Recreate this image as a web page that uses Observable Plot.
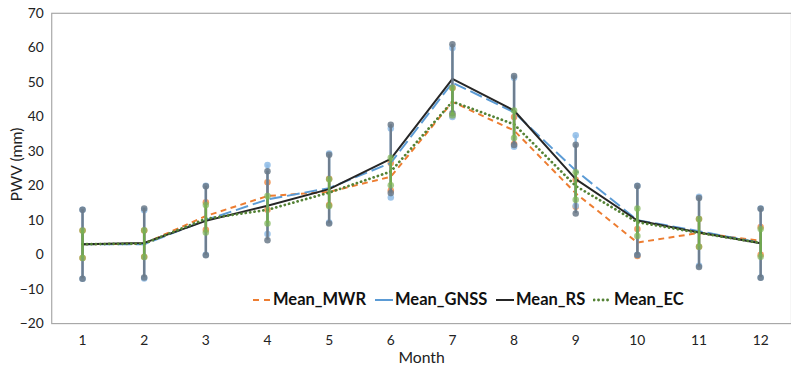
<!DOCTYPE html>
<html>
<head>
<meta charset="utf-8">
<script src="https://cdn.jsdelivr.net/npm/d3@7"></script>
<script src="https://cdn.jsdelivr.net/npm/@observablehq/plot@0.6"></script>
<style>
  html, body { margin: 0; padding: 0; background: #fff; overflow: hidden; }
  #wrap { position: relative; width: 791px; height: 372px; overflow: hidden; font-family: Lato, "Open Sans", sans-serif; }
  .leg { position: absolute; top: 289px; display: flex; align-items: center; font-weight: bold; font-size: 16.5px; color: #111; white-space: nowrap; }
  .leg svg { margin-right: 1px; }
</style>
</head>
<body>
<div id="wrap"></div>
<script>
const months = [1, 2, 3, 4, 5, 6, 7, 8, 9, 10, 11, 12];
const seriesNames = ["Mean_MWR", "Mean_GNSS", "Mean_RS", "Mean_EC"];
const mwrMean  = [3.0, 3.2, 11.2, 17.0, 18.2, 22.6, 44.3, 36.0, 17.8, 3.5, 6.3, 4.0];
const gnssMean = [3.0, 3.0, 10.0, 16.0, 19.3, 26.6, 49.9, 41.3, 24.4, 10.0, 6.8, 3.4];
const rsMean   = [3.0, 3.4, 9.8, 14.2, 19.0, 27.8, 51.0, 41.8, 21.9, 9.9, 6.4, 3.3];
const ecMean   = [3.0, 3.2, 10.4, 13.0, 18.0, 24.1, 44.4, 37.8, 19.9, 9.4, 6.3, 3.4];
const mwrErr   = [4.0, 3.8, 4.0, 4.0, 3.8, 4.0, 4.0, 3.9, 3.9, 3.9, 4.0, 4.0];
const gnssErr  = [10.0, 9.9, 10.0, 10.0, 10.0, 10.0, 10.0, 10.0, 10.2, 10.0, 10.0, 10.0];
const rsErr    = [10.0, 10.0, 10.0, 10.0, 10.0, 9.9, 10.0, 10.0, 10.0, 10.0, 10.0, 10.0];
const ecErr    = [4.0, 3.9, 4.0, 4.0, 3.9, 4.0, 4.0, 4.0, 4.0, 4.0, 4.0, 4.0];
const yTicks = [-20, -10, 0, 10, 20, 30, 40, 50, 60, 70];

const styles = {
  Mean_MWR:  {line: "#ED7D31", dash: "6,4.5", width: 2, bar: "#ED7D31", barOp: 0.85, dot: "#ED7D31", dotOp: 0.75, cap: "butt"},
  Mean_GNSS: {line: "#5B9BD5", dash: "13,5", width: 2, bar: "#7FB1E0", barOp: 0.8, dot: "#8DBBE6", dotOp: 0.85, cap: "butt"},
  Mean_RS:   {line: "#262626", dash: null, width: 2, bar: "#6B7A8A", barOp: 0.95, dot: "#6B7A8A", dotOp: 0.85, cap: "butt"},
  Mean_EC:   {line: "#548235", dash: "0.1,4.4", width: 2.8, bar: "#70AD47", barOp: 0.9, dot: "#7DB556", dotOp: 0.7, cap: "round"}
};

const means = [mwrMean, gnssMean, rsMean, ecMean];
const errs = [mwrErr, gnssErr, rsErr, ecErr];
const tables = seriesNames.map((s, i) => months.map((m, j) => ({
  series: s, month: m, value: means[i][j], lo: means[i][j] - errs[i][j], hi: means[i][j] + errs[i][j]
})));

const marks = [Plot.frame({stroke: "#A8A8A8", strokeWidth: 1.2})];
seriesNames.forEach((s, i) => {
  const st = styles[s];
  const t = tables[i];
  marks.push(Plot.line(t, {x: "month", y: "value", stroke: st.line, strokeWidth: st.width,
    strokeDasharray: st.dash || undefined, strokeLinecap: st.cap, strokeLinejoin: "round"}));
  marks.push(Plot.ruleX(t, {x: "month", y1: "lo", y2: "hi", stroke: st.bar, strokeOpacity: st.barOp, strokeWidth: 2.5}));
  marks.push(Plot.dot(t, {x: "month", y: "lo", r: 3.3, fill: st.dot, fillOpacity: st.dotOp, stroke: "none"}));
  marks.push(Plot.dot(t, {x: "month", y: "hi", r: 3.3, fill: st.dot, fillOpacity: st.dotOp, stroke: "none"}));
});
marks.push(Plot.axisY({ticks: yTicks, tickSize: 0, tickPadding: 8, label: null, fontSize: 14}));
marks.push(Plot.axisX({ticks: months, tickSize: 0, tickPadding: 12, label: null, fontSize: 14}));
marks.push(Plot.text(["Month"], {frameAnchor: "bottom", dy: 40, fontSize: 16, fill: "#222"}));
marks.push(Plot.text(["PWV (mm)"], {frameAnchor: "left", dx: -35, dy: -4, rotate: -90, textAnchor: "middle", fontSize: 16, fill: "#222"}));

const chart = Plot.plot({
  width: 803,
  height: 372,
  marginLeft: 52,
  marginRight: 0,
  marginTop: 13,
  marginBottom: 44,
  style: {fontFamily: "Lato, 'Open Sans', sans-serif", fontSize: "14px", color: "#222", background: "#fff"},
  x: {type: "linear", domain: [0.5, 12.5]},
  y: {domain: [-20, 70]},
  marks
});
const wrap = document.getElementById("wrap");
wrap.appendChild(chart);

// legend
const legPos = [252, 374, 495, 593];
seriesNames.forEach((s, i) => {
  const st = styles[s];
  const div = document.createElement("div");
  div.className = "leg";
  div.style.left = legPos[i] + "px";
  const ns = "http://www.w3.org/2000/svg";
  const svg = document.createElementNS(ns, "svg");
  svg.setAttribute("width", 20); svg.setAttribute("height", 16);
  const ln = document.createElementNS(ns, "line");
  ln.setAttribute("x1", 1); ln.setAttribute("x2", 19); ln.setAttribute("y1", 9); ln.setAttribute("y2", 9);
  ln.setAttribute("stroke", st.line); ln.setAttribute("stroke-width", st.width);
  if (s === "Mean_MWR") ln.setAttribute("stroke-dasharray", "6,5");
  if (s === "Mean_EC") ln.setAttribute("stroke-dasharray", st.dash);
  ln.setAttribute("stroke-linecap", st.cap);
  svg.appendChild(ln);
  div.appendChild(svg);
  const sp = document.createElement("span");
  sp.textContent = s;
  div.appendChild(sp);
  wrap.appendChild(div);
});
</script>
</body>
</html>
